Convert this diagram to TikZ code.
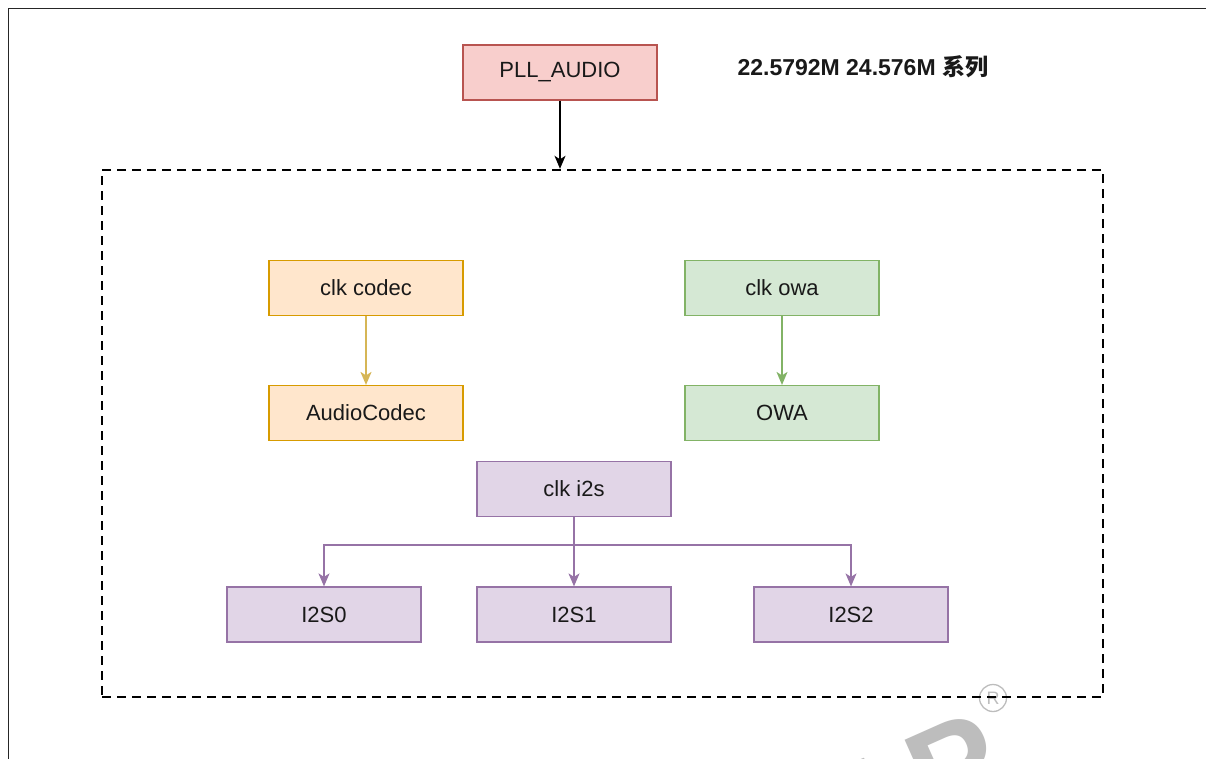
\documentclass[tikz,border=0pt]{standalone}
\usepackage{fontspec}
\setmainfont{Liberation Sans}
\newfontfamily\cjk{Noto Sans CJK SC}
\usetikzlibrary{arrows.meta}
\definecolor{redfill}{HTML}{F8CECC}\definecolor{reddraw}{HTML}{B85450}
\definecolor{orfill}{HTML}{FFE6CC}\definecolor{ordraw}{HTML}{D79B00}\definecolor{orline}{HTML}{D6B656}
\definecolor{grfill}{HTML}{D5E8D4}\definecolor{grdraw}{HTML}{82B366}
\definecolor{pufill}{HTML}{E1D5E7}\definecolor{pudraw}{HTML}{9673A6}
\definecolor{wm}{HTML}{BDBDBD}
\tikzset{
  box/.style={draw, line width=1.2pt, minimum width=194pt, minimum height=55pt, inner sep=0pt, font=\fontsize{22}{24}\selectfont, text=black!90},
  redbox/.style={box, fill=redfill, draw=reddraw},
  orbox/.style={box, fill=orfill, draw=ordraw},
  grbox/.style={box, fill=grfill, draw=grdraw},
  pubox/.style={box, fill=pufill, draw=pudraw},
  conn/.style={line width=1.5pt, -{Stealth[length=13pt,width=11pt,inset=3.5pt]}},
}
\begin{document}
\begin{tikzpicture}[x=1pt,y=-1pt]
\useasboundingbox (0,0) rectangle (1206,758);
\begin{scope}
\clip (0,0) rectangle (1206,758);
\fill[white] (0,0) rectangle (1206,758);
% frame
\draw[line width=1.6pt, black!85] (8.5,760) -- (8.5,8.5) -- (1210,8.5);
% watermark
\node[rotate=24, text=wm, font=\bfseries\fontsize{130}{130}\selectfont, anchor=center] (wmtext) at (912,786) {AP};
\node[draw=wm, text=wm, circle, line width=1.3pt, minimum size=27pt, inner sep=0pt, font=\fontsize{18}{18}\selectfont] (wmr) at (993,698) {R};
% dashed container
\node[draw, dashed, line width=2.4pt, dash pattern=on 9pt off 6pt, minimum width=1001pt, minimum height=527pt, inner sep=0pt] (cont) at (602.5,433.5) {};
% nodes
\node[redbox] (pll) at (560,72.5) {PLL\_AUDIO};
\node[anchor=west, font=\bfseries\fontsize{23}{26}\selectfont, text=black!90] (title) at (734,67) {22.5792M 24.576M {\cjk 系列}};
\node[orbox] (codecclk) at (366,288) {clk codec};
\node[orbox] (codec) at (366,413) {AudioCodec};
\node[grbox] (owaclk) at (782,288) {clk owa};
\node[grbox] (owa) at (782,413) {OWA};
\node[pubox] (i2sclk) at (574,489) {clk i2s};
\node[pubox] (i2s0) at (324,614.5) {I2S0};
\node[pubox] (i2s1) at (574,614.5) {I2S1};
\node[pubox] (i2s2) at (851,614.5) {I2S2};
% connectors
\draw[conn, black] (pll.south) -- (cont.north -| pll.south);
\draw[conn, orline] (codecclk) -- (codec);
\draw[conn, grdraw] (owaclk) -- (owa);
\coordinate (br) at (574,545);
\draw[conn, pudraw] (i2sclk.south) -- (br) -| (i2s0.north);
\draw[conn, pudraw] (i2sclk.south) -- (i2s1.north);
\draw[conn, pudraw] (br) -| (i2s2.north);
\end{scope}
\end{tikzpicture}
\end{document}
